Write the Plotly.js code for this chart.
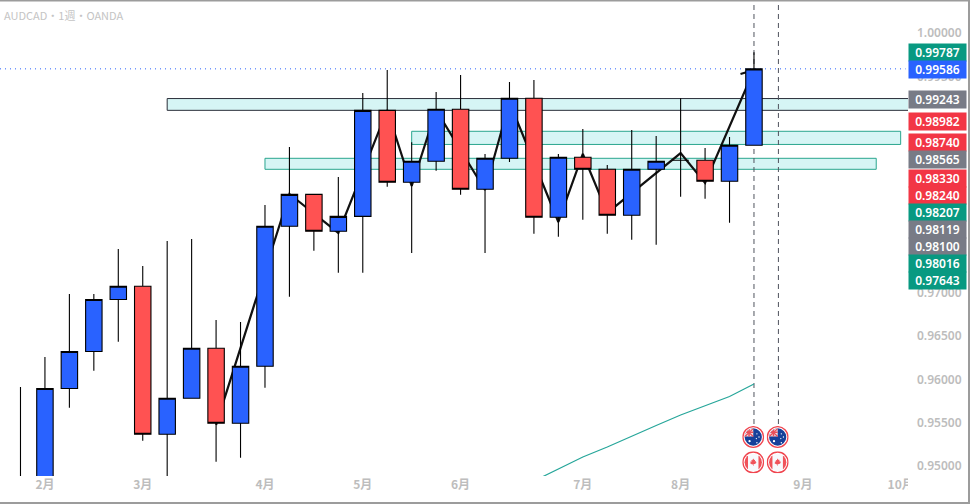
<!DOCTYPE html>
<html><head><meta charset="utf-8">
<script src="https://cdn.plot.ly/plotly-3.0.1.min.js"></script>
<style>html,body{margin:0;padding:0;background:#fff}#c{width:970px;height:504px}</style></head>
<body><div id="c"></div>
<script>
const weekIndex = [...Array(31).keys()];
const opens  = [.9470,.9470,.95895,.96322,.96923,.97075,.95366,.95782,.96359,.95493,.96151,.97768,.98137,.97710,.97883,.99107,.98276,.98519,.99119,.98195,.98553,.99246,.97872,.98565,.98426,.97895,.98426,.98530,.98530,.98288,.98703];
const closes = [.9482,.95895,.96322,.96923,.97075,.95366,.95782,.96359,.95493,.96151,.97768,.98137,.97710,.97883,.99107,.98276,.98519,.99119,.98195,.98553,.99246,.97872,.98565,.98426,.97895,.98426,.98519,.98530,.98288,.98703,.99586];
const highs  = [.95912,.96259,.96986,.96986,.97506,.97310,.97598,.97621,.96686,.96663,.98014,.98684,.98137,.98337,.99307,.99573,.98738,.99319,.99515,.98603,.99434,.99457,.98603,.98891,.98476,.98880,.98811,.99246,.98672,.98799,.99777];
const lows   = [.9460,.9460,.95673,.96101,.96435,.95292,.9460,.95782,.95050,.95096,.95904,.96955,.97486,.97232,.97232,.98225,.97460,.98410,.98133,.97460,.98510,.97682,.97648,.97844,.97682,.97613,.97555,.98110,.98087,.97810,.98703];

const zigzagWeeks  = [8,11,13,15,16,17,19,20,22,23,24,27,28,30,null,29.45,30];
const zigzagPrices = [.95474,.98141,.97691,.99110,.98233,.99110,.98187,.99200,.97818,.98603,.97922,.98614,.98268,.99573,null,.99527,.99573];

const tealWeeks  = [21,22,23,24,25,26,27,28,29,30];
const tealPrices = [.94827,.94965,.95104,.95219,.95347,.95468,.95589,.95693,.95803,.95947];

const zoneStart = [6,16,10];
const zoneEnd   = [37,36,35];
const zoneTop   = [.99243,.98865,.98553];
const zoneBot   = [.99107,.98713,.98426];
const zoneEdge  = ['#2a2e39','#2aa58e','#2aa58e'];

const eventWeeks = [30,31];
const lastPrice = .99586;

const monthTickWeeks = [1,5,10,14,18,23,27,32,36];
const monthTickText  = ['2月','3月','4月','5月','6月','7月','8月','9月','10月'];
const priceTicks = [1,.995,.97,.965,.96,.955,.95];

const badgeText  = ['0.99787','0.99586','0.99243','0.98982','0.98740','0.98565','0.98330','0.98240','0.98207','0.98119','0.98100','0.98016','0.97643'];
const badgeColor = ['#089981','#2962ff','#787b86','#f23645','#f23645','#787b86','#f23645','#f23645','#089981','#787b86','#787b86','#089981','#089981'];
const badgeRowPx = [52.5,69.5,99,121.5,142.5,159.5,178.5,195.5,212.5,229.5,246.5,263.5,280.5];

const W=970,H=504,ML=0,MR=62,MT=1,MB=28;
const PW=W-ML-MR,PH=H-MT-MB;
const px2paperX=p=>(p-ML)/PW, px2paperY=p=>1-(p-MT)/PH;
const yRange=[0.948845,1.003695], xRange=[-0.838,36.3];

const FONT='"Noto Sans","Open Sans",sans-serif';

const au='data:image/svg+xml;utf8,'+encodeURIComponent(`<svg xmlns="http://www.w3.org/2000/svg" width="42" height="42" viewBox="0 0 42 42"><defs><clipPath id="a"><circle cx="21" cy="21" r="16.5"/></clipPath></defs><circle cx="21" cy="21" r="19.7" fill="#fff" stroke="#f0454f" stroke-width="2.6"/><g clip-path="url(#a)"><rect width="42" height="42" fill="#16409a"/><rect x="3" y="3" width="18" height="17" fill="#f3dfe4"/><path d="M5 5L21 20M21 5L5 20" stroke="#e8505b" stroke-width="2.5"/><path d="M13 3V20M3 12H21" stroke="#e8505b" stroke-width="3"/><circle cx="14" cy="29" r="2.2" fill="#fff"/><circle cx="28" cy="15" r="1.3" fill="#fff"/><circle cx="32" cy="21" r="1.3" fill="#fff"/><circle cx="27" cy="24" r="1.3" fill="#fff"/><circle cx="28" cy="32" r="1.4" fill="#fff"/></g></svg>`);
const ca='data:image/svg+xml;utf8,'+encodeURIComponent(`<svg xmlns="http://www.w3.org/2000/svg" width="42" height="42" viewBox="0 0 42 42"><defs><clipPath id="b"><circle cx="21" cy="21" r="16.5"/></clipPath></defs><circle cx="21" cy="21" r="19.7" fill="#fff" stroke="#f0454f" stroke-width="2.6"/><g clip-path="url(#b)"><rect width="42" height="42" fill="#f7f9fd"/><rect x="3" y="3" width="8" height="36" fill="#f0525a"/><rect x="31" y="3" width="8" height="36" fill="#f0525a"/><path d="M21 13.5l1.8 3 1.8-.7-.6 3.6 2.4-.8-.6 2.2 1.6.8-3.4 2.6-2.6.2V28h-.8v-3.1l-2.6-.2-3.4-2.6 1.6-.8-.6-2.2 2.4.8-.6-3.6 1.8.7z" fill="#f0525a"/></g></svg>`);

const shapes=[];
zoneStart.forEach((s,i)=>shapes.push({type:'rect',layer:'below',xref:'x',yref:'y',x0:s,x1:zoneEnd[i],y0:zoneBot[i],y1:zoneTop[i],fillcolor:'#d6f5f5',line:{color:zoneEdge[i],width:1}}));
shapes.push({type:'line',layer:'below',xref:'x',yref:'y',x0:xRange[0],x1:xRange[1]-0.1,y0:lastPrice,y1:lastPrice,line:{color:'#2962ff',width:1,dash:'1px,4px'}});
eventWeeks.forEach(w=>shapes.push({type:'line',layer:'below',xref:'x',yref:'y',x0:w,x1:w,y0:.95485,y1:yRange[1],line:{color:'#50535e',width:1,dash:'5px,4px'}}));
// frame and clip of the time axis
shapes.push({type:'rect',layer:'above',xref:'paper',yref:'paper',x0:px2paperX(908),x1:px2paperX(916),y0:px2paperY(477),y1:px2paperY(500),fillcolor:'#fff',line:{width:0}});
shapes.push({type:'line',layer:'above',xref:'paper',yref:'paper',x0:px2paperX(0),x1:px2paperX(970),y0:px2paperY(0.5),y1:px2paperY(0.5),line:{color:'#9c9c9c',width:2}});
shapes.push({type:'line',layer:'above',xref:'paper',yref:'paper',x0:px2paperX(0),x1:px2paperX(970),y0:px2paperY(503),y1:px2paperY(503),line:{color:'#9c9c9c',width:2}});
shapes.push({type:'line',layer:'above',xref:'paper',yref:'paper',x0:px2paperX(969),x1:px2paperX(969),y0:px2paperY(0),y1:px2paperY(504),line:{color:'#9c9c9c',width:2}});

const annotations=badgeText.map((t,i)=>({xref:'paper',yref:'paper',x:px2paperX(937),y:px2paperY(badgeRowPx[i]),xanchor:'center',yanchor:'middle',text:t,showarrow:false,width:53,height:13,borderpad:2,bgcolor:badgeColor[i],font:{family:FONT,size:12,color:'#fff',weight:600},align:'center'}));
annotations.push({xref:'paper',yref:'paper',x:px2paperX(2),y:px2paperY(15),xanchor:'left',yanchor:'middle',text:'AUDCAD・1週・OANDA',showarrow:false,font:{family:'"Noto Sans CJK JP",sans-serif',size:11,color:'#c4c4c4'}});

const images=[];
eventWeeks.forEach(w=>{
  images.push({source:au,xref:'x',yref:'y',x:w-0.03,y:.95335,sizex:.9,sizey:.00254,xanchor:'center',yanchor:'middle',sizing:'stretch',layer:'above'});
  images.push({source:ca,xref:'x',yref:'y',x:w-0.03,y:.95042,sizex:.9,sizey:.00254,xanchor:'center',yanchor:'middle',sizing:'stretch',layer:'above'});
});

const traces=[
 {type:'scatter',mode:'lines',x:tealWeeks,y:tealPrices,line:{color:'#26a69a',width:1.2},hoverinfo:'skip',zorder:0},
 {type:'scatter',mode:'lines',x:zigzagWeeks,y:zigzagPrices,connectgaps:false,line:{color:'#111',width:2.2},hoverinfo:'skip',zorder:0},
 {type:'candlestick',x:weekIndex,open:opens,high:highs,low:lows,close:closes,zorder:1,
  increasing:{fillcolor:'#2962ff',line:{color:'#000',width:1.1}},
  decreasing:{fillcolor:'#ff5252',line:{color:'#000',width:1.1}},whiskerwidth:0}
];
const layout={width:W,height:H,margin:{l:ML,r:MR,t:MT,b:MB,pad:0},paper_bgcolor:'#fff',plot_bgcolor:'#fff',showlegend:false,boxgap:0.04,
 xaxis:{type:'linear',range:xRange,showgrid:false,zeroline:false,showline:false,ticks:'',tickmode:'array',tickvals:monthTickWeeks,ticktext:monthTickText,tickangle:0,tickfont:{family:'"Noto Sans CJK JP",sans-serif',size:12,color:'#bdbdbd',weight:600},rangeslider:{visible:false},fixedrange:true},
 yaxis:{side:'right',range:yRange,showgrid:false,zeroline:false,showline:false,ticks:'',tickmode:'array',tickvals:priceTicks,tickformat:'.5f',tickfont:{family:FONT,size:12,color:'#bdbdbd',weight:600},ticklabelstandoff:8,fixedrange:true},
 shapes,annotations,images};
Plotly.newPlot('c',traces,layout,{staticPlot:true,displayModeBar:false});
</script></body></html>
